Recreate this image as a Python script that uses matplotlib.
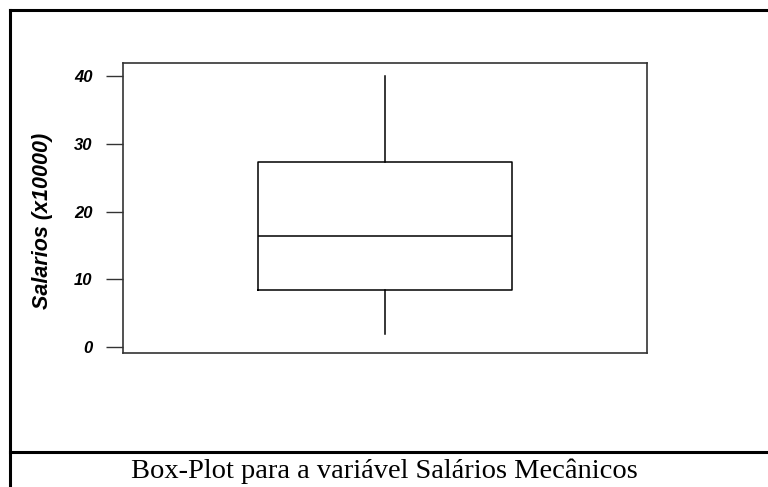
import matplotlib.pyplot as plt
from matplotlib.lines import Line2D

# Resumo de cinco números (salários x10000)
minimo = 1.9
q1 = 8.5
mediana = 16.4
q3 = 27.3
maximo = 40.0
yticks = [0, 10, 20, 30, 40]

fig = plt.figure(figsize=(7.68, 4.87), dpi=100)
ax = fig.add_axes([0.1602, 0.2752, 0.6823, 0.5955])

stats = [{"whislo": minimo, "q1": q1, "med": mediana, "q3": q3, "whishi": maximo,
          "fliers": [], "label": ""}]
lw = 1.1
ax.bxp(stats, positions=[1], widths=0.485, showcaps=False, showfliers=False,
       boxprops=dict(color="black", linewidth=lw),
       whiskerprops=dict(color="black", linewidth=lw),
       medianprops=dict(color="black", linewidth=lw))

ax.set_xlim(0.5, 1.5)
ax.set_ylim(-0.85, 41.9)
ax.set_xticks([])
ax.set_yticks(yticks)
ax.set_yticklabels([str(t) for t in yticks], fontfamily="Liberation Sans",
                   fontweight="bold", fontstyle="italic", fontsize=12)
ax.tick_params(axis="y", length=12, width=1, pad=10, color="#333333")
for s in ax.spines.values():
    s.set_linewidth(1.2)
    s.set_color("#333333")

ax.set_ylabel("Salarios (x10000)", fontfamily="Liberation Sans", fontweight="bold",
              fontstyle="italic", fontsize=15.5)
ax.yaxis.set_label_coords(-0.134, 0.455)

# moldura e legenda
fig.add_artist(Line2D([9.5 / 768, 9.5 / 768], [0, 1 - 9.5 / 487], color="black",
                      linewidth=2.2, transform=fig.transFigure))
fig.add_artist(Line2D([9.5 / 768, 1], [1 - 9.5 / 487, 1 - 9.5 / 487], color="black",
                      linewidth=2.2, transform=fig.transFigure))
fig.add_artist(Line2D([9.5 / 768, 1], [1 - 452 / 487, 1 - 452 / 487], color="black",
                      linewidth=2.2, transform=fig.transFigure))
fig.text(0.5, 1 - 471 / 487, "Box-Plot para a variável Salários Mecânicos",
         fontfamily="Liberation Serif", fontsize=20.5, ha="center", va="center")

fig.savefig("out.png", dpi=100)
